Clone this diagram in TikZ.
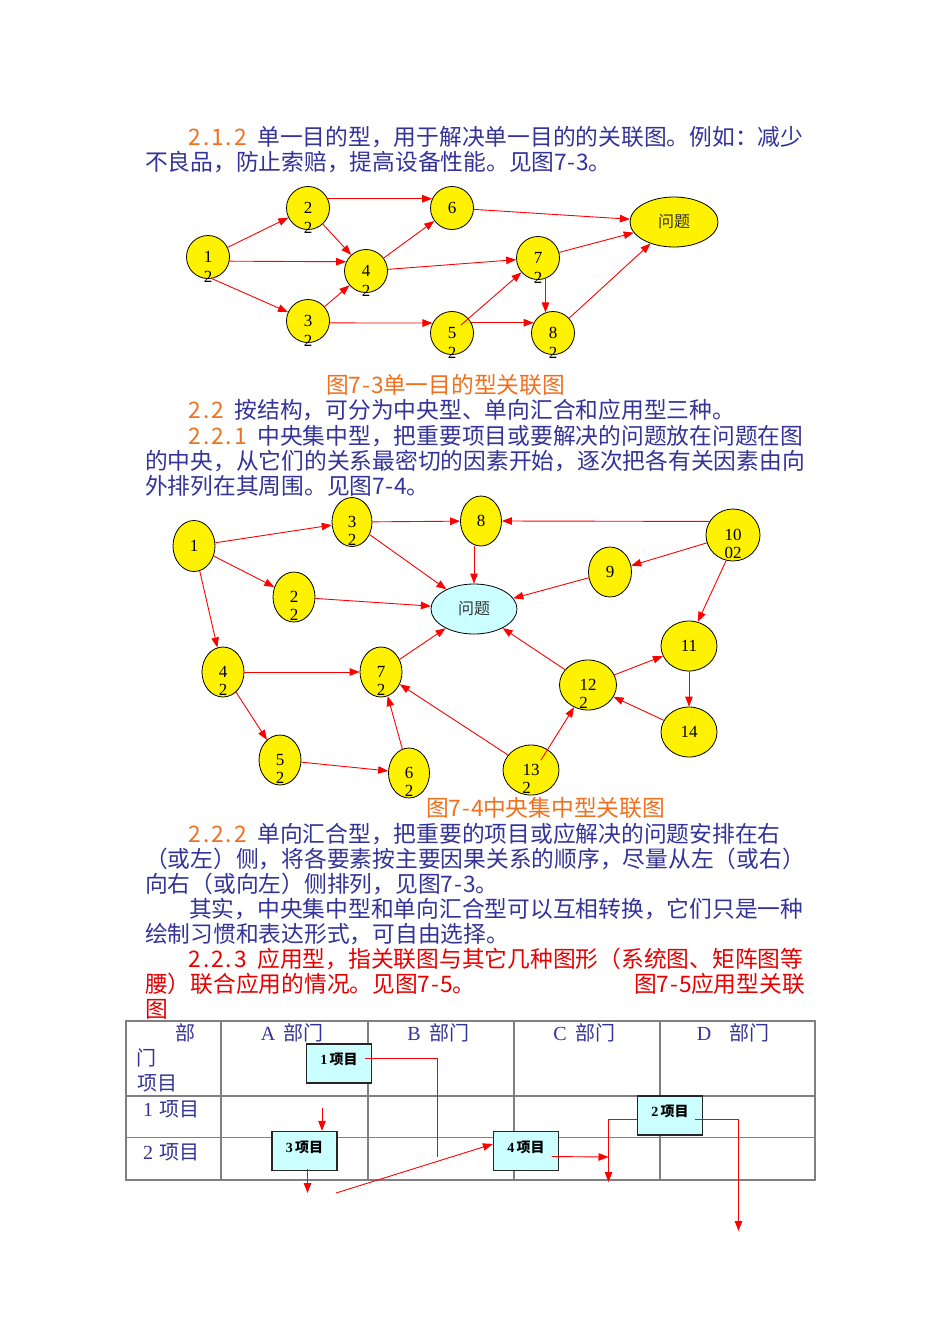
\documentclass[tikz,border=0pt]{standalone}
\usepackage{fontspec}
\setmainfont{Liberation Serif}
\newfontfamily\cjk{Noto Sans CJK SC}
\usetikzlibrary{arrows.meta,shapes.geometric}
\definecolor{tblue}{RGB}{51,51,153}
\definecolor{torange}{RGB}{240,112,32}
\definecolor{tred}{RGB}{230,0,0}
\definecolor{ared}{RGB}{255,0,0}
\definecolor{lcyan}{RGB}{204,255,255}
\definecolor{tgray}{RGB}{128,128,128}
\def\halfwloop#1{\ifx#1\relax\else\makebox[0.5em]{#1}\expandafter\halfwloop\fi}
\newcommand\halfw[1]{\halfwloop#1\relax}
\newcommand\serifl[1]{\makebox[0.5em]{\rmfamily #1}}
\tikzset{
  body/.style={anchor=west, inner sep=0pt, font=\cjk\fontsize{22.75}{25}\selectfont, text=tblue},
  tbl/.style={inner sep=0pt, font=\cjk\fontsize{20}{22}\selectfont, text=tblue},
  arr/.style={draw=ared, line width=0.9pt, -{Triangle[length=10pt,width=7.5pt]}},
  plain/.style={draw=ared, line width=0.9pt},
  yn/.style={ellipse, draw=black, line width=0.8pt, fill=yellow, inner sep=0pt,
    font=\fontsize{17}{17}\selectfont},
  sz/.style 2 args={minimum width=#1pt, minimum height=#2pt},
  sub/.style={label={[inner sep=0pt, font=\fontsize{17}{17}\selectfont, yshift=-19.5pt]center:#1}},
  subb/.style={label={[inner sep=0pt, font=\fontsize{17}{17}\selectfont, yshift=-18pt]center:#1}},
  subl/.style={label={[inner sep=0pt, font=\fontsize{17}{17}\selectfont, yshift=-18pt, xshift=-4.5pt]center:#1}},
  qn/.style={ellipse, draw=black, line width=0.8pt, inner sep=0pt,
    font=\cjk\fontsize{16}{16}\selectfont, text=black!80},
  boxn/.style={draw=black!85, line width=1.3pt, fill=lcyan, inner sep=0pt,
    minimum width=65pt, minimum height=39pt},
  boxl/.style={label={[inner sep=0pt, font=\fontsize{14}{14}\selectfont, yshift=4pt]center:{\rmfamily\bfseries #1}\,{\cjk\bfseries 项目}}},
  tline/.style={draw=tgray, line width=1.2pt}
}
\begin{document}
\begin{tikzpicture}[x=1pt,y=-1pt]
\useasboundingbox (0,0) rectangle (950,1344);
\fill[white] (0,0) rectangle (950,1344);

% ---------- text ----------
\node[body] (p1) at (189,137) {\textcolor{torange}{\halfw{2.1.2}}\hspace{0.5em}单一目的型，用于解决单一目的的关联图。例如：减少};
\node[body] (p2) at (145,162) {不良品，防止索赔，提高设备性能。见图\halfw{7-3}。};
\node[body,text=torange] (cap3) at (326,385) {图\halfw{7-3}单一目的型关联图};
\node[body] (p3) at (189,410) {\textcolor{torange}{\halfw{2.2}}\hspace{0.5em}按结构，可分为中央型、单向汇合和应用型三种。};
\node[body] (p4) at (189,436) {\textcolor{torange}{\halfw{2.2.1}}\hspace{0.5em}中央集中型，把重要项目或要解决的问题放在问题在图};
\node[body] (p5) at (145,461) {的中央，从它们的关系最密切的因素开始，逐次把各有关因素由向};
\node[body] (p6) at (145,486) {外排列在其周围。见图\halfw{7-4}。};
\node[body,text=torange] (cap4) at (426,808) {图\halfw{7-4}中央集中型关联图};
\node[body] (p7) at (189,834) {\textcolor{torange}{\halfw{2.2.2}}\hspace{0.5em}单向汇合型，把重要的项目或应解决的问题安排在右};
\node[body] (p8) at (145,859) {（或左）侧，将各要素按主要因果关系的顺序，尽量从左（或右）};
\node[body] (p9) at (145,884) {向右（或向左）侧排列，见图\halfw{7-3}。};
\node[body] (p10) at (189,909) {其实，中央集中型和单向汇合型可以互相转换，它们只是一种};
\node[body] (p11) at (145,934) {绘制习惯和表达形式，可自由选择。};
\node[body,text=tred] (p12) at (189,959) {\halfw{2.2.3}\hspace{0.5em}应用型，指关联图与其它几种图形（系统图、矩阵图等};
\node[body,text=tred] (p13) at (145,984) {腰）联合应用的情况。见图\halfw{7-5}。};
\node[body,text=tred,anchor=east] (cap5) at (805,984) {图\halfw{7-5}应用型关联};
\node[body,text=tred] (p14) at (145,1009) {图};

% ---------- Fig 7-3 ----------
\node[yn,sz={43}{43},sub=2] (a1) at (208,257) {1};
\node[yn,sz={43}{43},sub=2] (a2) at (308,208) {2};
\node[yn,sz={43}{43},sub=2] (a3) at (308,321) {3};
\node[yn,sz={43}{43},sub=2] (a4) at (366,271) {4};
\node[yn,sz={43}{43}] (a6) at (452,208) {6};
\node[yn,sz={43}{43},sub=2] (a5) at (452,333) {5};
\node[yn,sz={43}{43},sub=2] (a7) at (538,258) {7};
\node[yn,sz={43}{43},sub=2] (a8) at (553,333) {8};
\node[qn,fill=yellow,sz={88}{50}] (aq) at (674,222) {问题};

\draw[arr] (a1) -- (a2);
\draw[arr] (a1.-11) -- (a4.155);
\draw[arr] (a1.-80) -- (a3);
\draw[arr] (a2.25) -- (a6.155);
\draw[arr] (a2) -- (a4);
\draw[arr] (a3) -- (a4);
\draw[arr] (a3.-5) -- (a5.153);
\draw[arr] (a4) -- (a6);
\draw[arr] (a4) -- (a7);
\draw[arr] (a6) -- (aq);
\draw[arr] (a7) -- (aq);
\draw[arr] (a7.-70) -- (a8.110);
\draw[arr] ([shift={(9,-8)}]a5.center) -- (a7);
\draw[arr] (a5.28) -- (a8.152);
\draw[arr] (a8) -- (aq);

% ---------- Fig 7-4 ----------
\node[yn,sz={42}{51}] (b1) at (194,546) {1};
\node[yn,sz={40}{49},subb=2] (b3) at (352,522) {3};
\node[yn,sz={41}{50}] (b8) at (481,521) {8};
\node[yn,sz={54}{52},subb=02] (b10) at (733,535) {10};
\node[yn,sz={43}{50}] (b9) at (610,572) {9};
\node[yn,sz={42}{50},subb=2] (b2) at (294,597) {2};
\node[qn,fill=lcyan,sz={86}{50}] (bq) at (474,609) {问题};
\node[yn,sz={56}{50}] (b11) at (689,646) {11};
\node[yn,sz={42}{50},subb=2] (b4) at (223,672) {4};
\node[yn,sz={42}{50},subb=2] (b7) at (381,672) {7};
\node[yn,sz={57}{50},subl=2] (b12) at (588,685) {12};
\node[yn,sz={56}{50}] (b14) at (689,732) {14};
\node[yn,sz={42}{50},subb=2] (b5) at (280,760) {5};
\node[yn,sz={41}{50},subb=2] (b6) at (409,773) {6};
\node[yn,sz={56}{50},subl=2] (b13) at (531,770) {13};

\draw[arr] (b1) -- (b3);
\draw[arr] (b1) -- (b2);
\draw[arr] (b1) -- (b4);
\draw[arr] (b3) -- (b8);
\draw[arr] (b3) -- (bq);
\draw[arr] (b8.south -| bq.north) -- (bq.north);
\draw[arr] (b10.150) -- (b8.east);
\draw[arr] (b10) -- (b9);
\draw[arr] (b10.-105) -- (b11.70);
\draw[arr] (b9) -- (bq);
\draw[arr] (b2) -- (bq);
\draw[arr] (b4) -- (b7);
\draw[arr] (b4) -- (b5);
\draw[arr] (b7) -- (bq);
\draw[arr] (b5) -- (b6);
\draw[arr] (b6) -- (b7);
\draw[arr] (b13) -- (b7);
\draw[arr] ([shift={(10,-10)}]b13.center) -- (b12);
\draw[arr] (b12) -- (bq);
\draw[arr] (b12) -- (b11);
\draw[arr] (b11) -- (b14);
\draw[arr] (b14) -- (b12);

% ---------- Fig 7-5 table ----------
\draw[tline] (126,1021) rectangle (815,1180);
\draw[tline] (126,1096) -- (815,1096);
\draw[tline] (126,1137.5) -- (815,1137.5);
\draw[tline] (221,1021) -- (221,1180);
\draw[tline] (368,1021) -- (368,1180);
\draw[tline] (514,1021) -- (514,1180);
\draw[tline] (660,1021) -- (660,1180);

\node[tbl] (h0a) at (185,1033) {部};
\node[tbl] (h0b) at (146,1058) {门};
\node[tbl] (h0c) at (157,1083) {项目};
\node[tbl] (hA) at (293,1033) {\serifl{A}\hspace{0.5em}部门};
\node[tbl] (hB) at (439,1033) {\serifl{B}\hspace{0.5em}部门};
\node[tbl] (hC) at (585,1033) {\serifl{C}\hspace{0.5em}部门};
\node[tbl] (hD) at (734,1033) {\serifl{D}\hspace{1em}部门};
\node[tbl,anchor=west] (r1) at (143,1109) {\serifl{1}\hspace{0.3em}项目};
\node[tbl,anchor=west] (r2) at (143,1152) {\serifl{2}\hspace{0.3em}项目};

\node[boxn,boxl=1] (x1) at (339,1063.5) {};
\node[boxn,boxl=3] (x3) at (304.5,1151) {};
\node[boxn,boxl=4] (x4) at (526,1151) {};
\node[boxn,boxl=2] (x2) at (670,1115.5) {};

\coordinate (c1) at (437,1157);
\coordinate (c2) at (322,1108);
\coordinate (c3) at (307.5,1193);
\coordinate (c4) at (336,1193);
\coordinate (c5) at (608.5,1157);
\coordinate (c6) at (608.5,1182);
\coordinate (c7) at (738.5,1231);

\draw[plain] ([shift={(26,-5.5)}]x1.center) -| (c1);
\draw[arr] (c2) -- (c2 |- x3.north);
\draw[arr] ([shift={(3,18)}]x3.center) -- (c3);
\draw[arr] (c4) -- ([yshift=7pt]x4.west);
\draw[arr] ([shift={(25.5,5.5)}]x4.center) -- (c5);
\draw[arr] ([yshift=-4pt]x2.west) -| (c6);
\draw[arr] ([shift={(25,4)}]x2.center) -| (c7);
\end{tikzpicture}
\end{document}
